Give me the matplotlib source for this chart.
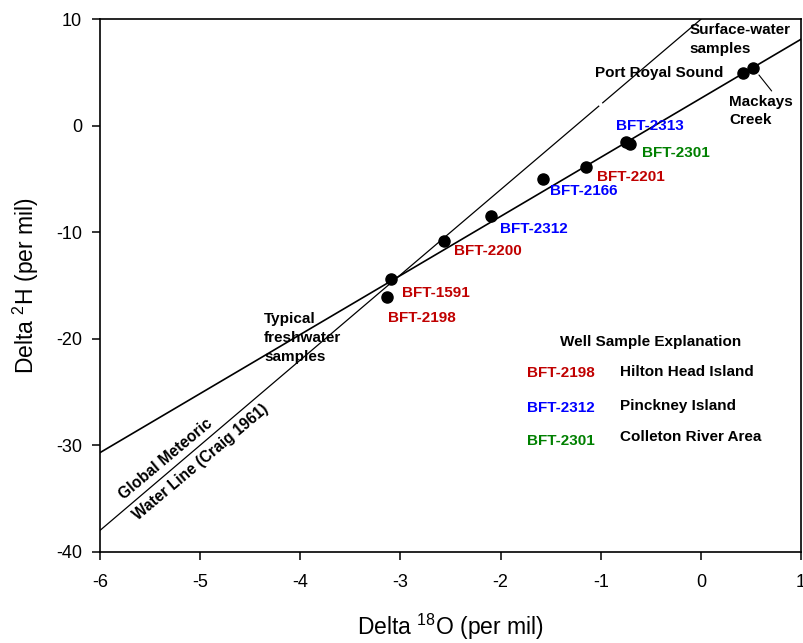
import matplotlib
matplotlib.use("Agg")
import matplotlib.pyplot as plt
import numpy as np

plt.rcParams['font.family'] = ['Liberation Sans', 'DejaVu Sans']
plt.rcParams['mathtext.fontset'] = 'custom'
plt.rcParams['mathtext.rm'] = 'Liberation Sans'
plt.rcParams['axes.unicode_minus'] = False

# ---- data ----
sample_names = ['Mackays Creek', 'Port Royal Sound', 'BFT-2313', 'BFT-2301', 'BFT-2201',
                'BFT-2166', 'BFT-2312', 'BFT-2200', 'BFT-1591', 'BFT-2198']
d18O = [0.52, 0.42, -0.75, -0.71, -1.15, -1.58, -2.10, -2.56, -3.09, -3.13]
d2H = [5.4, 4.93, -1.49, -1.74, -3.84, -5.02, -8.44, -10.79, -14.41, -16.1]

gmwl_coef = [8.0, 10.0]          # Craig (1961): dD = 8 d18O + 10
fresh_coef = [5.546, 2.58]       # local line through samples
gmwl_break = [-1.02, -0.98]      # small gap in the drawn GMWL

x_ticks = [-6, -5, -4, -3, -2, -1, 0, 1]
y_ticks = [-40, -30, -20, -10, 0, 10]

RED = '#c00000'
BLUE = '#0000ff'
GREEN = '#008000'

fig = plt.figure(figsize=(8.04, 6.43), dpi=100)
ax = fig.add_axes([100 / 804, 1 - 551.7 / 643, 701 / 804, (551.7 - 19.3) / 643])

# lines
xs1 = np.array([-6.0, gmwl_break[0]])
xs2 = np.array([gmwl_break[1], 0.0])
ax.plot(xs1, gmwl_coef[0] * xs1 + gmwl_coef[1], color='black', lw=0.9)
ax.plot(xs2, gmwl_coef[0] * xs2 + gmwl_coef[1], color='black', lw=0.9)
xf = np.array([-6.0, 1.0])
ax.plot(xf, fresh_coef[0] * xf + fresh_coef[1], color='black', lw=1.2)

# points
ax.plot(d18O, d2H, 'o', color='black', ms=8, zorder=5)

ax.set_xlim(-6, 1)
ax.set_ylim(-40, 10)
ax.set_xticks(x_ticks)
ax.set_yticks(y_ticks)
ax.tick_params(direction='out', length=6, width=1.1, labelsize=13,
               top=False, right=False)
ax.tick_params(axis='x', pad=10)
ax.tick_params(axis='y', pad=7)
for s in ax.spines.values():
    s.set_linewidth(1.2)

ax.set_xlabel(r'Delta $^{\mathregular{18}}$O (per mil)', fontsize=16.5)
ax.set_ylabel(r'Delta $^{\mathregular{2}}$H (per mil)', fontsize=16.5)
ax.xaxis.set_label_coords(0.5, -0.141)
ax.yaxis.set_label_coords(-0.105, 0.5)
ax.xaxis.label.set_va('center')
ax.yaxis.label.set_va('center')

fs = 11
kw = dict(fontsize=fs, fontweight='bold')

# annotations
ax.text(-0.115, 9.62, 'Surface-water\nsamples', va='top', ha='left', linespacing=1.45, **kw)
ax.text(-1.057, 4.93, 'Port Royal Sound', va='center', ha='left', **kw)
ax.text(0.281, 2.89, 'Mackays\nCreek', va='top', ha='left', linespacing=1.32, **kw)
ax.annotate('', xy=(0.58, 4.77), xytext=(0.707, 3.27),
            arrowprops=dict(arrowstyle='-', lw=0.8, color='black', shrinkA=0, shrinkB=0))

label_pos = {
    'BFT-2313': (-0.85, -0.02, BLUE),
    'BFT-2301': (-0.588, -2.53, GREEN),
    'BFT-2201': (-1.04, -4.78, RED),
    'BFT-2166': (-1.506, -6.12, BLUE),
    'BFT-2312': (-2.006, -9.69, BLUE),
    'BFT-2200': (-2.462, -11.76, RED),
    'BFT-1591': (-2.981, -15.68, RED),
    'BFT-2198': (-3.121, -18.08, RED),
}
for name, (lx, ly, c) in label_pos.items():
    ax.text(lx, ly, name, color=c, va='center', ha='left', **kw)

ax.text(-4.36, -17.46, 'Typical\nfreshwater\nsamples', va='top', ha='left',
        linespacing=1.45, **kw)
ax.text(-5.76, -35.15, 'Global Meteoric', va='baseline', ha='left',
        rotation=40, rotation_mode='anchor', fontsize=11.2, fontweight='bold')
ax.text(-5.62, -37.1, 'Water Line (Craig 1961)', va='baseline', ha='left',
        rotation=40, rotation_mode='anchor', fontsize=11.2, fontweight='bold')

# explanation box
ax.text(-1.406, -20.28, 'Well Sample Explanation', va='center', ha='left', **kw)
legend_rows = [('BFT-2198', RED, 'Hilton Head Island', -23.25, -23.15),
               ('BFT-2312', BLUE, 'Pinckney Island', -26.53, -26.32),
               ('BFT-2301', GREEN, 'Colleton River Area', -29.58, -29.26)]
for well, c, area, y1, y2 in legend_rows:
    ax.text(-1.735, y1, well, color=c, va='center', ha='left', **kw)
    ax.text(-0.81, y2, area, va='center', ha='left', **kw)

fig.savefig('out.png', dpi=100)
